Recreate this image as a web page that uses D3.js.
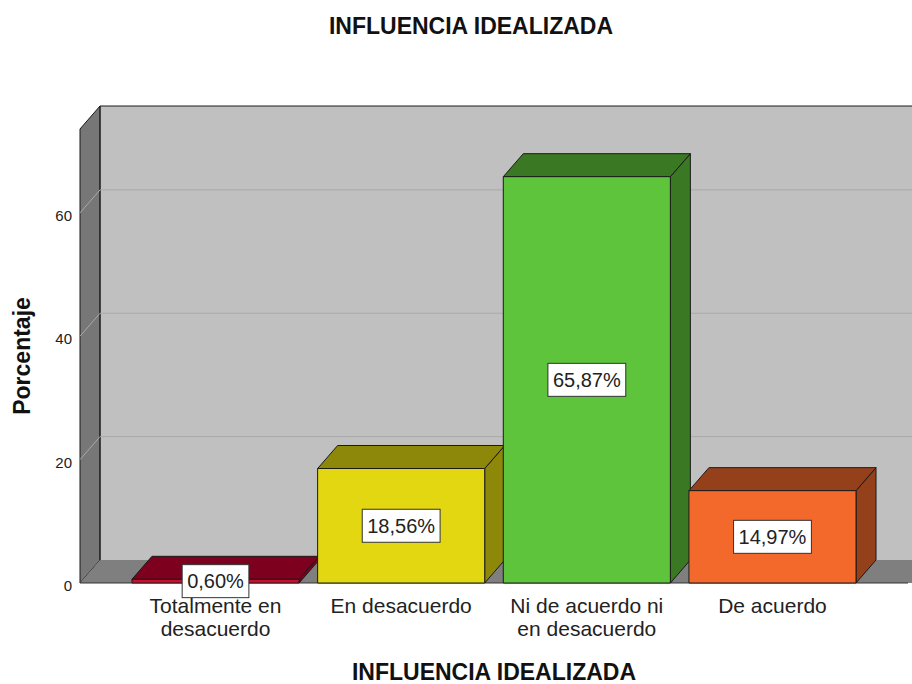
<!DOCTYPE html>
<html>
<head>
<meta charset="utf-8">
<script src="https://cdn.jsdelivr.net/npm/d3@7/dist/d3.min.js"></script>
<style>
  html, body { margin: 0; padding: 0; background: #fff; }
  svg { display: block; }
  text { font-family: "Liberation Sans", Arial, sans-serif; }
</style>
</head>
<body>
<script>
// ---- data ----
const categories = ["Totalmente en desacuerdo", "En desacuerdo", "Ni de acuerdo ni en desacuerdo", "De acuerdo"];
const categoryLines = [["Totalmente en", "desacuerdo"], ["En desacuerdo"], ["Ni de acuerdo ni", "en desacuerdo"], ["De acuerdo"]];
const percentages = [0.60, 18.56, 65.87, 14.97];
const valueLabels = ["0,60%", "18,56%", "65,87%", "14,97%"];
const yTicks = [0, 20, 40, 60];
const frontColors = ["#c8102e", "#e3d712", "#5ec43b", "#f2692b"];
const depthColors = ["#7d001e", "#8d870a", "#3b7823", "#94401b"];
const chartTitle = "INFLUENCIA IDEALIZADA";
const xTitle = "INFLUENCIA IDEALIZADA";
const yTitle = "Porcentaje";

// ---- layout ----
const W = 912, H = 684;
const DX = 20, DY = -23;       // 3D depth offset
const svg = d3.select("body").append("svg").attr("width", W).attr("height", H);

const x = d3.scaleBand().domain(categories).range([80, 908]).paddingInner(0.1).paddingOuter(0.28);
const y = d3.scaleLinear().domain([0, 73.6]).range([583, 129]);
const y0 = y(0), yTop = y(73.6);
const xL = 80, xR = 908;

// back wall
svg.append("rect").attr("x", xL + DX).attr("y", yTop + DY).attr("width", W - xL).attr("height", y0 - yTop)
  .attr("fill", "#c0c0c0");
// left side wall
svg.append("polygon")
  .attr("points", [[xL, yTop], [xL + DX, yTop + DY], [xL + DX, y0 + DY], [xL, y0]].map(p => p.join(",")).join(" "))
  .attr("fill", "#777777").attr("stroke", "#1a1a1a").attr("stroke-width", 1);
// floor
svg.append("polygon")
  .attr("points", [[xL, y0], [xL + DX, y0 + DY], [xR + DX + 10, y0 + DY], [xR + 10, y0]].map(p => p.join(",")).join(" "))
  .attr("fill", "#7f7f7f");
svg.append("line").attr("x1", xL).attr("x2", xR).attr("y1", y0).attr("y2", y0).attr("stroke", "#333").attr("stroke-width", 1);
// back wall top edge and left edge
svg.append("line").attr("x1", xL + DX).attr("x2", W).attr("y1", yTop + DY).attr("y2", yTop + DY).attr("stroke", "#1a1a1a");
svg.append("line").attr("x1", xL + DX).attr("x2", xL + DX).attr("y1", yTop + DY).attr("y2", y0 + DY).attr("stroke", "#1a1a1a");

// gridlines
const grid = svg.append("g");
yTicks.filter(t => t > 0).forEach(t => {
  grid.append("line").attr("x1", xL + DX).attr("x2", W).attr("y1", y(t) + DY).attr("y2", y(t) + DY)
    .attr("stroke", "#a9a9a9").attr("stroke-width", 1);
  grid.append("line").attr("x1", xL).attr("x2", xL + DX).attr("y1", y(t)).attr("y2", y(t) + DY)
    .attr("stroke", "#a9a9a9").attr("stroke-width", 1);
});

// y tick labels
svg.append("g").selectAll("text").data(yTicks).join("text")
  .attr("x", 72).attr("y", d => y(d) + 8)
  .attr("text-anchor", "end").attr("font-size", 15).attr("fill", "#222")
  .text(d => d);

// bars
const bars = svg.append("g");
categories.forEach((c, i) => {
  const v = percentages[i];
  const x0 = x(c), x1 = x(c) + x.bandwidth();
  const yt = y(v);
  const g = bars.append("g").attr("stroke", "#1a1a1a").attr("stroke-width", 1).attr("stroke-linejoin", "round");
  g.append("polygon")
    .attr("points", [[x1, yt], [x1 + DX, yt + DY], [x1 + DX, y0 + DY], [x1, y0]].map(p => p.join(",")).join(" "))
    .attr("fill", depthColors[i]);
  g.append("polygon")
    .attr("points", [[x0, yt], [x0 + DX, yt + DY], [x1 + DX, yt + DY], [x1, yt]].map(p => p.join(",")).join(" "))
    .attr("fill", depthColors[i]);
  g.append("rect").attr("x", x0).attr("y", yt).attr("width", x1 - x0).attr("height", y0 - yt)
    .attr("fill", frontColors[i]);
});

// value labels
const vl = svg.append("g");
categories.forEach((c, i) => {
  const cx = x(c) + x.bandwidth() / 2;
  const cy = (y(percentages[i]) + y0) / 2;
  const g = vl.append("g");
  const r = g.append("rect").attr("fill", "#fff").attr("stroke", "#333").attr("stroke-width", 1);
  const t = g.append("text").attr("x", cx).attr("y", cy + 7).attr("text-anchor", "middle")
    .attr("font-size", 20).attr("fill", "#222").text(valueLabels[i]);
  const w = t.node().getComputedTextLength();
  r.attr("x", cx - w / 2 - 5).attr("y", cy - 16.5).attr("width", w + 10).attr("height", 33);
});

// category labels
const cl = svg.append("g");
categories.forEach((c, i) => {
  const cx = x(c) + x.bandwidth() / 2;
  categoryLines[i].forEach((ln, j) => {
    cl.append("text").attr("x", cx).attr("y", 613 + j * 22.5).attr("text-anchor", "middle")
      .attr("font-size", 21).attr("fill", "#222").text(ln);
  });
});

// titles
svg.append("text").attr("x", 471).attr("y", 34).attr("text-anchor", "middle")
  .attr("font-size", 23).attr("font-weight", "bold").attr("fill", "#111").text(chartTitle);
svg.append("text").attr("x", (xL + xR) / 2).attr("y", 680).attr("text-anchor", "middle")
  .attr("font-size", 23).attr("font-weight", "bold").attr("fill", "#111").text(xTitle);
svg.append("text").attr("transform", `translate(30,${(y0 + yTop) / 2}) rotate(-90)`).attr("text-anchor", "middle")
  .attr("font-size", 23).attr("font-weight", "bold").attr("fill", "#111").text(yTitle);
</script>
</body>
</html>
